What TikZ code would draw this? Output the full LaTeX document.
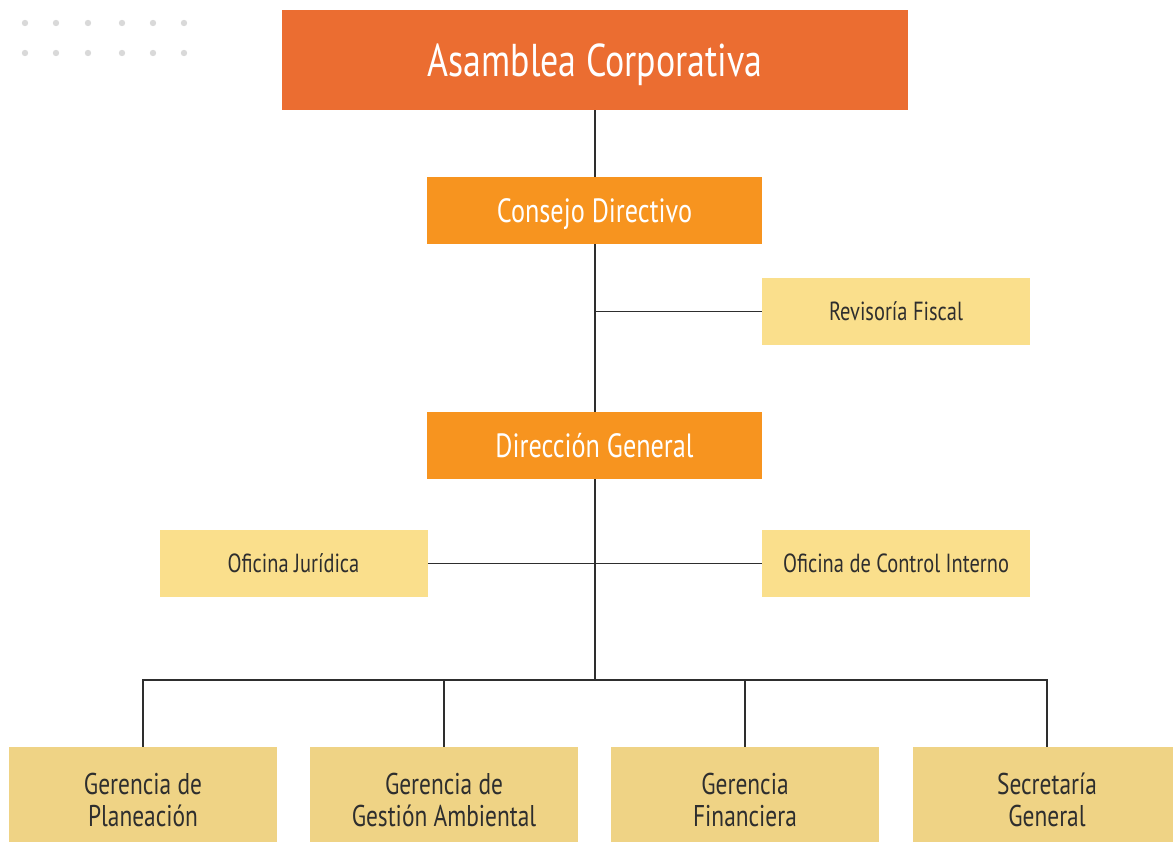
\documentclass[tikz,border=0pt]{standalone}
\usepackage{fontspec}
\setmainfont{PT Sans}[FakeStretch=0.78]
\usepackage{xcolor}
\usetikzlibrary{positioning}
\definecolor{asamOrange}{HTML}{EB6D31}
\definecolor{dirOrange}{HTML}{F7941F}
\definecolor{ofiYellow}{HTML}{FADF8C}
\definecolor{gerYellow}{HTML}{EFD385}
\definecolor{dotGray}{HTML}{D9D9D9}
\definecolor{txtDark}{HTML}{2E2E2E}

\begin{document}
\begin{tikzpicture}[x=0.5pt,y=-0.5pt,
  box/.style={rectangle,inner sep=0pt,align=center,text depth=0pt},
  topbox/.style={box,fill=asamOrange,text=white,minimum width=313pt,minimum height=50pt,
    font=\fontsize{23}{27}\selectfont},
  mainbox/.style={box,fill=dirOrange,text=white,minimum width=167.5pt,minimum height=33.5pt,
    font=\fontsize{16.8}{20}\selectfont},
  ofibox/.style={box,fill=ofiYellow,text=txtDark,minimum width=134pt,minimum height=33.5pt,
    font=\fontsize{13.1}{15}\selectfont},
  gerbox/.style={box,fill=gerYellow,text=txtDark,minimum width=134pt,minimum height=53pt,
    font=\fontsize{15}{16}\selectfont},
  link/.style={draw=txtDark,line width=0.75pt}]
  \clip (0,0) rectangle (1173,841);
  \useasboundingbox (0,0) rectangle (1173,841);
  % decorative dots
  \foreach \dx in {25,56,88,122,153,184}{
    \foreach \dy in {23,53}{
      \fill[dotGray] (\dx,\dy) circle (1.6pt);
    }
  }
  % boxes
  \node[topbox] (asam) at (595,60) {Asamblea Corporativa};
  \node[mainbox] (cons) at (594.5,210.5) {Consejo Directivo};
  \node[ofibox] (revis) at (896,311.5) {Revisoría Fiscal};
  \node[mainbox] (dirgen) at (594.5,445.5) {Dirección General};
  \node[ofibox] (jurid) at (293.5,563.5) {Oficina Jurídica};
  \node[ofibox] (ctrl) at (896,563.5) {Oficina de Control Interno};
  \node[gerbox] (plan) at (143,800) {Gerencia de\\Planeación};
  \node[gerbox] (amb) at (444,800) {Gerencia de\\Gestión Ambiental};
  \node[gerbox] (fin) at (745,800) {Gerencia\\Financiera};
  \node[gerbox] (secr) at (1047,800) {Secretaría\\General};
  \coordinate (bus) at (595,680);
  % connectors
  \draw[link] (asam.south -| bus) -- (cons.north -| bus);
  \draw[link] (cons.south -| bus) -- (dirgen.north -| bus);
  \draw[link] (dirgen.south -| bus) -- (bus);
  \draw[link] (revis.west) -- (revis.west -| bus);
  \draw[link] (jurid.east) -- (ctrl.west);
  \draw[link] (plan.north) |- (bus) -| (secr.north);
  \draw[link] (amb.north) -- (amb.north |- bus);
  \draw[link] (fin.north) -- (fin.north |- bus);
\end{tikzpicture}
\end{document}
